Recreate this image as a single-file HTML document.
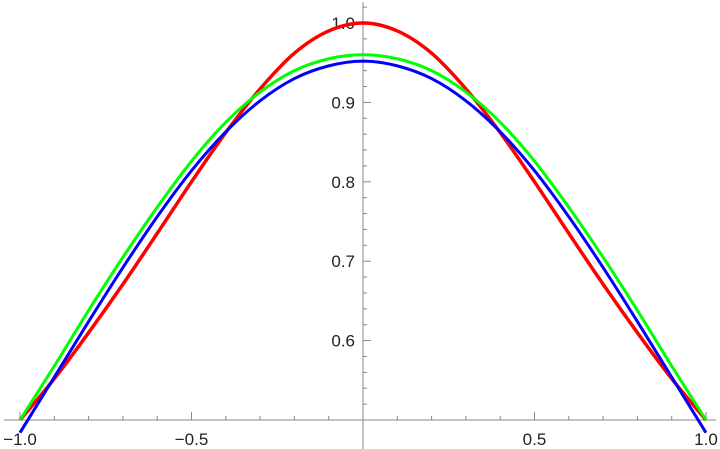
<!DOCTYPE html>
<html><head><meta charset="utf-8"><style>
html,body{margin:0;padding:0;background:#fff}
svg{display:block}
text{font-family:"Liberation Sans",sans-serif;font-size:17px;fill:#222}
</style></head><body>
<svg id="chart" width="720" height="449" viewBox="0 0 720 449" xmlns="http://www.w3.org/2000/svg"></svg>
<script>
const xs = [-1,-0.9,-0.8,-0.7,-0.6,-0.5,-0.4,-0.3,-0.2,-0.1,0,0.1,0.2,0.3,0.4,0.5,0.6,0.7,0.8,0.9,1];
const redVals = [0.5,0.552,0.61,0.671,0.735,0.8,0.862,0.917,0.962,0.99,1,0.99,0.962,0.917,0.862,0.8,0.735,0.671,0.61,0.552,0.5];
const greenVals = [0.5,0.568,0.638,0.705,0.768,0.826,0.875,0.913,0.94,0.955,0.96,0.955,0.94,0.913,0.875,0.826,0.768,0.705,0.638,0.568,0.5];
const blueVals = [0.484,0.554,0.624,0.692,0.756,0.814,0.863,0.902,0.93,0.946,0.952,0.946,0.93,0.902,0.863,0.814,0.756,0.692,0.624,0.554,0.484];
const xTicks = [-1,-0.5,0.5,1];
const xTickLabels = ["-1.0","-0.5","0.5","1.0"];
const yTicks = [0.6,0.7,0.8,0.9,1.0];
const yTickLabels = ["0.6","0.7","0.8","0.9","1.0"];

const NS="http://www.w3.org/2000/svg";
const svg=document.getElementById('chart');
const X=v=>363+v*343;
const Y=v=>420-(v-0.5)*794;
function mk(t,a){const e=document.createElementNS(NS,t);for(const k in a)e.setAttribute(k,a[k]);svg.appendChild(e);return e;}

let ax=mk('line',{x1:4,y1:420,x2:716,y2:420,stroke:'#888','stroke-width':1});


let ay=mk('line',{x1:363,y1:2,x2:363,y2:449,stroke:'#888','stroke-width':1});



for(let i=-10;i<=10;i++){
  if(i===0)continue;
  const v=i/10, major=(i%5===0);
  const t=mk('line',{x1:X(v),y1:420,x2:X(v),y2:420-(major?8:4),stroke:'#888','stroke-width':1});
  
  
}
for(let i=26;i<=51;i++){
  const v=i/50, major=(i%5===0);
  const t=mk('line',{x1:363,y1:Y(v),x2:363+(major?8:4),y2:Y(v),stroke:'#888','stroke-width':1});
  
  
}
xTicks.forEach((v,i)=>{
  const t=mk('text',{x:X(v),y:445,'text-anchor':'middle'});
  t.textContent=xTickLabels[i].replace('-','\u2212');
  
  
});
yTicks.forEach((v,i)=>{
  const t=mk('text',{x:355,y:Y(v)+6,'text-anchor':'end'});
  t.textContent=yTickLabels[i];
  
  
});

function pathFor(vals){
  const p=xs.map((x,i)=>[X(x),Y(vals[i])]);
  let d='M'+p[0][0]+','+p[0][1];
  for(let i=0;i<p.length-1;i++){
    const p0=p[Math.max(0,i-1)],p1=p[i],p2=p[i+1],p3=p[Math.min(p.length-1,i+2)];
    const c1=[p1[0]+(p2[0]-p0[0])/6,p1[1]+(p2[1]-p0[1])/6];
    const c2=[p2[0]-(p3[0]-p1[0])/6,p2[1]-(p3[1]-p1[1])/6];
    d+=` C${c1[0]},${c1[1]} ${c2[0]},${c2[1]} ${p2[0]},${p2[1]}`;
  }
  return d;
}
const r=mk('path',{d:pathFor(redVals),fill:'none',stroke:'#f00','stroke-width':3.5});


const g=mk('path',{d:pathFor(greenVals),fill:'none',stroke:'#0f0','stroke-width':3});


const b=mk('path',{d:pathFor(blueVals),fill:'none',stroke:'#00f','stroke-width':3});


</script>
</body></html>
